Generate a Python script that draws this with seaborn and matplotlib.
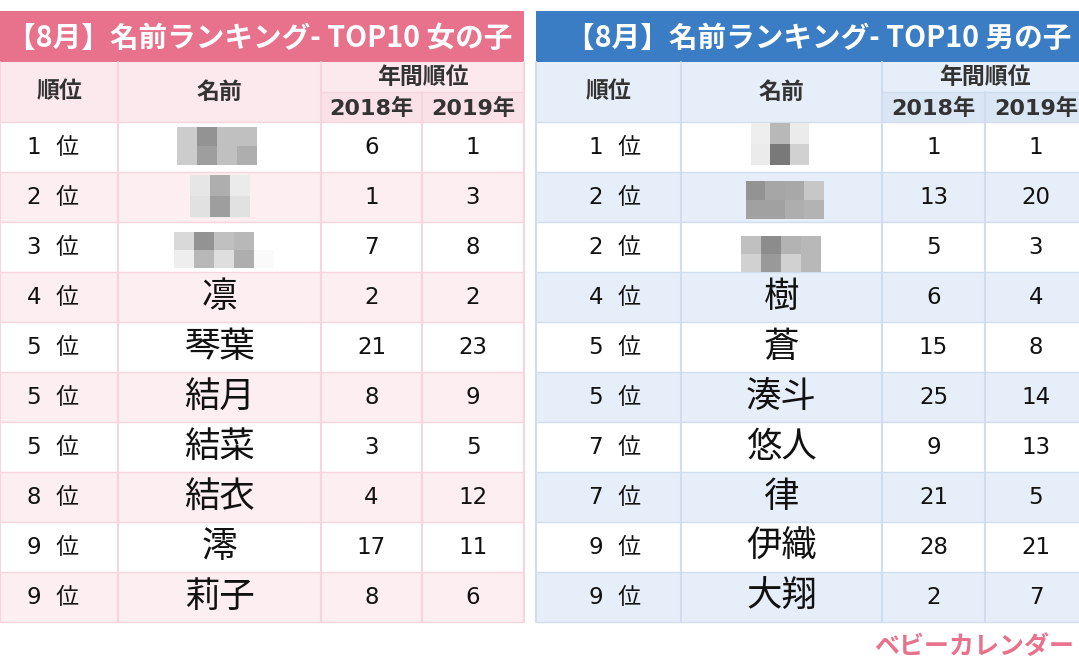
import numpy as np
import pandas as pd
import seaborn as sns
import matplotlib.pyplot as plt
from matplotlib.colors import ListedColormap
from matplotlib.patches import Rectangle

sns.set_theme(style="white")
plt.rcParams['font.family'] = ['Noto Sans CJK JP', 'DejaVu Sans']
NUM_FONT = ['DejaVu Sans', 'Noto Sans CJK JP']  # wide digits, like the original

# table contents
titles = ['【8月】名前ランキング- TOP10 女の子', '【8月】名前ランキング- TOP10 男の子']
header_rank = '順位'
header_name = '名前'
header_year = '年間順位'
year_labels = ['2018年', '2019年']

girls_rank = ['1 位', '2 位', '3 位', '4 位', '5 位', '5 位', '5 位', '8 位', '9 位', '9 位']
girls_name = ['', '', '', '凛', '琴葉', '結月', '結菜', '結衣', '澪', '莉子']
girls_2018 = [6, 1, 7, 2, 21, 8, 3, 4, 17, 8]
girls_2019 = [1, 3, 8, 2, 23, 9, 5, 12, 11, 6]

boys_rank = ['1 位', '2 位', '2 位', '4 位', '5 位', '5 位', '7 位', '7 位', '9 位', '9 位']
boys_name = ['', '', '', '樹', '蒼', '湊斗', '悠人', '律', '伊織', '大翔']
boys_2018 = [1, 13, 5, 6, 15, 25, 9, 21, 28, 2]
boys_2019 = [1, 20, 3, 4, 8, 14, 13, 5, 21, 7]

# pixelated (hidden) names, gray levels of the mosaic blocks
girls_mosaic = [
    [[0.80, 0.58, 0.75, 0.75], [0.80, 0.62, 0.75, 0.68]],
    [[0.90, 0.68, 0.92], [0.88, 0.62, 0.88]],
    [[0.85, 0.58, 0.75, 0.72, 1.0], [0.93, 0.72, 0.87, 0.68, 0.98]],
]
boys_mosaic = [
    [[0.93, 0.72, 0.92], [0.92, 0.48, 0.82]],
    [[0.58, 0.65, 0.66, 0.78], [0.63, 0.63, 0.68, 0.70]],
    [[0.75, 0.55, 0.70, 0.72], [0.82, 0.60, 0.82, 0.72]],
]

W, H = 1079, 664
fig = plt.figure(figsize=(W / 100, H / 100), dpi=100)

styles = [
    dict(cols=[0, 118, 321, 422, 524], banner='#E8718B', head='#FCE9EE',
         sub='#F9E1E7', stripe='#FDEEF1', line='#F5D6DD', title_x=260, rank_x=53,
         title=titles[0],
         rank=girls_rank, name=girls_name, a=girls_2018, b=girls_2019, mosaic=girls_mosaic,
         mw=[(177, 127, 80, 38), (190, 175, 60, 42), (174, 232, 100, 36)]),
    dict(cols=[536, 681, 882, 985, 1087], banner='#3B7DC4', head='#E6EFF9',
         sub='#DAE6F4', stripe='#E6EFF9', line='#CFDDEE', title_x=819, rank_x=615,
         title=titles[1],
         rank=boys_rank, name=boys_name, a=boys_2018, b=boys_2019, mosaic=boys_mosaic,
         mw=[(751, 123, 58, 42), (746, 181, 78, 38), (741, 236, 80, 36)]),
]

y_banner, y_head, y_sub, y_body, row_h = 11, 62, 92, 122, 50
n_rows = len(girls_rank)
y_end = y_body + row_h * n_rows

# striped body backgrounds drawn with seaborn heatmaps
for st in styles:
    c = st['cols']
    left = c[0] / W
    width = (min(c[-1], W) - c[0]) / W
    bax = fig.add_axes([left, (H - y_end) / H, width, (y_end - y_body) / H])
    stripes = pd.DataFrame({'s': [i % 2 for i in range(n_rows)]})
    sns.heatmap(stripes, cmap=ListedColormap(['white', st['stripe']]), cbar=False,
                xticklabels=False, yticklabels=False, ax=bax)
    bax.axis('off')

ax = fig.add_axes([0, 0, 1, 1])
ax.set_xlim(0, W)
ax.set_ylim(H, 0)
ax.axis('off')
ax.patch.set_alpha(0)

for st in styles:
    c = st['cols']
    # banner
    ax.add_patch(Rectangle((c[0], y_banner), c[-1] - c[0], y_head - y_banner, color=st['banner'], lw=0))
    ax.text(st['title_x'], (y_banner + y_head) / 2 + 1, st['title'],
            ha='center', va='center', color='white', fontsize=20.6, fontweight='bold')
    # header
    ax.add_patch(Rectangle((c[0], y_head), c[-1] - c[0], y_body - y_head, color=st['head'], lw=0))
    ax.add_patch(Rectangle((c[2], y_sub), c[-1] - c[2], y_body - y_sub, color=st['sub'], lw=0))
    ax.text((c[0] + c[1]) / 2, (y_head + y_body) / 2, header_rank, ha='center', va='center',
            fontsize=16.5, fontweight='bold', color='#333333')
    ax.text((c[1] + c[2]) / 2, (y_head + y_body) / 2, header_name, ha='center', va='center',
            fontsize=16.5, fontweight='bold', color='#333333')
    ax.text((c[2] + c[-1]) / 2, (y_head + y_sub) / 2, header_year, ha='center', va='center',
            fontsize=16.5, fontweight='bold', color='#333333')
    for j, lab in enumerate(year_labels):
        ax.text((c[2 + j] + c[3 + j]) / 2, (y_sub + y_body) / 2 + 1, lab, ha='center', va='center',
                fontsize=16, fontweight='bold', color='#333333', family=NUM_FONT)

    # grid lines
    lc = st['line']
    for x in [c[0], c[1], c[2], c[-1]]:
        ax.plot([x, x], [y_head, y_end], color=lc, lw=1.5)
    ax.plot([c[3], c[3]], [y_sub, y_end], color=lc, lw=1.5)
    ax.plot([c[2], c[-1]], [y_sub, y_sub], color=lc, lw=1)
    for i in range(n_rows + 1):
        ax.plot([c[0], c[-1]], [y_body + i * row_h] * 2, color=lc, lw=1)

    # body
    for i in range(n_rows):
        yc = y_body + row_h * i + row_h / 2
        ax.text(st['rank_x'], yc, st['rank'][i].replace(' ', '  '), ha='center', va='center',
                fontsize=16.5, color='#111111', family=NUM_FONT)
        if st['name'][i]:
            ax.text((c[1] + c[2]) / 2, yc, st['name'][i], ha='center', va='center',
                    fontsize=25.5, color='#111111')
        ax.text((c[2] + c[3]) / 2, yc, str(st['a'][i]), ha='center', va='center',
                fontsize=16.5, color='#111111', family=NUM_FONT)
        ax.text((c[3] + c[4]) / 2, yc, str(st['b'][i]), ha='center', va='center',
                fontsize=16.5, color='#111111', family=NUM_FONT)

    # mosaics for hidden names
    for m, (mx, my, mw, mh) in zip(st['mosaic'], st['mw']):
        ax.imshow(np.array(m), cmap='gray', vmin=0, vmax=1, extent=(mx, mx + mw, my + mh, my),
                  interpolation='nearest', aspect='auto', zorder=3)

ax.set_xlim(0, W)
ax.set_ylim(H, 0)

# logo text
ax.text(874, 647, 'ベビーカレンダー', ha='left', va='center', fontsize=18,
        fontweight='bold', color='#E8718B')

fig.savefig('out.png', dpi=100)
